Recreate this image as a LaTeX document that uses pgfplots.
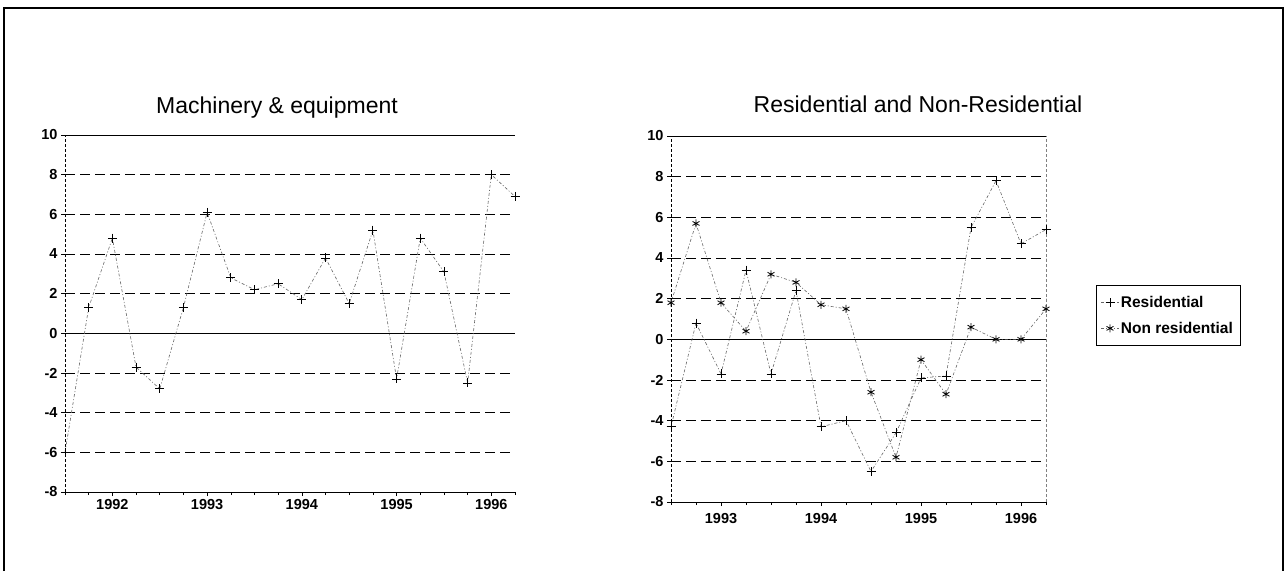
\documentclass[border=0pt]{standalone}
\usepackage{fontspec}
\setmainfont{Liberation Sans}
\usepackage{pgfplots}
\pgfplotsset{compat=1.18}
\pgfplotsset{
 mystyle/.style={
  scale only axis,
  axis x line*=bottom, axis y line*=left,
  ymin=-8, ymax=10, ytick={-8,-6,...,10}, yticklabels={-8,-6,-4,-2,0,2,4,6,8,10},
  ymajorgrids, major grid style={black, dash pattern=on 10pt off 5pt, line width=0.7pt},
  extra y ticks={0,10}, extra y tick labels={},
  extra y tick style={grid=major, major grid style={solid, black, line width=0.8pt}, major tick length=0pt},
  xticklabel style={font=\fontsize{14.5}{16}\selectfont\bfseries},
  yticklabel style={font=\fontsize{14.5}{16}\selectfont\bfseries},
  tick align=outside, major tick length=4pt, minor tick length=3pt,
  tick style={black, line width=0.5pt},
  x axis line style={line width=0.7pt, black},
  y axis line style={line width=0.6pt, black, dash pattern=on 3pt off 2pt},
  clip=false,
 },
 myline/.style={gray!80!black, line width=0.6pt, dash pattern=on 3pt off 2pt on 1pt off 2pt},
}
\begin{document}
\begin{tikzpicture}
\path[use as bounding box] (0pt,0pt) rectangle (1287pt,571pt);
\draw[line width=1.2pt] (4pt,0pt) -- (4pt,563pt) -- (1283pt,563pt) -- (1283pt,0pt);
\node[font=\fontsize{23}{26}\selectfont, anchor=base] at (277pt,457pt) {Machinery \& equipment};
\node[font=\fontsize{23}{26}\selectfont, anchor=base] at (918pt,458pt) {Residential and Non-Residential};

\begin{axis}[mystyle,
  at={(65pt,79pt)}, anchor=south west, width=450pt, height=357pt,
  xmin=0, xmax=19, xtick={2,6,10,14,18}, xticklabels={1992,1993,1994,1995,1996},
  minor xtick={0,...,19},
]
\addplot[myline, mark=+, mark size=4.5pt, mark options={solid, black, line width=0.8pt}] coordinates {
(0,-6.0) (1,1.3) (2,4.8) (3,-1.7) (4,-2.8) (5,1.3) (6,6.1) (7,2.8) (8,2.2) (9,2.5)
(10,1.7) (11,3.8) (12,1.5) (13,5.2) (14,-2.3) (15,4.8) (16,3.1) (17,-2.5) (18,8.0) (19,6.9)
};
\end{axis}

\begin{axis}[mystyle,
  at={(671pt,69pt)}, anchor=south west, width=375pt, height=366pt,
  xmin=0, xmax=15, xtick={2,6,10,14}, xticklabels={1993,1994,1995,1996},
  minor xtick={0,...,15},
  xticklabel style={yshift=-4pt},
  legend style={at={(1.133,0.593)}, anchor=north west, draw=black, line width=0.6pt,
    font=\fontsize{15.5}{18}\selectfont\bfseries, row sep=9pt, inner xsep=5pt, inner ysep=9pt},
  legend cell align=left,
]
\draw[gray, line width=1pt, dash pattern=on 3pt off 2pt] (axis cs:15,-8) -- (axis cs:15,10);
\addplot[myline, mark=+, mark size=4.5pt, mark options={solid, black, line width=0.8pt}] coordinates {
(0,-4.3) (1,0.8) (2,-1.7) (3,3.4) (4,-1.7) (5,2.4) (6,-4.3) (7,-4.0)
(8,-6.5) (9,-4.6) (10,-1.9) (11,-1.8) (12,5.5) (13,7.8) (14,4.7) (15,5.4)
};
\addlegendentry{Residential}
\addplot[myline, mark=asterisk, mark size=4pt, mark options={solid, black, line width=0.8pt}] coordinates {
(0,1.8) (1,5.7) (2,1.8) (3,0.4) (4,3.2) (5,2.8) (6,1.7) (7,1.5)
(8,-2.6) (9,-5.8) (10,-1.0) (11,-2.7) (12,0.6) (13,0.0) (14,0.0) (15,1.5)
};
\addlegendentry{Non residential}
\end{axis}
\end{tikzpicture}
\end{document}
